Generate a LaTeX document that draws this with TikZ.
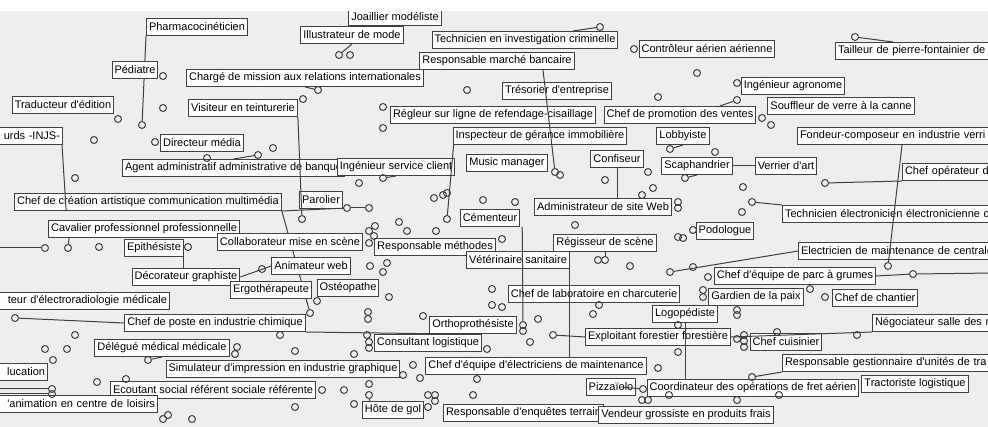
\documentclass[tikz,border=0pt]{standalone}
\usepackage{fontspec}
\setmainfont{Liberation Sans}[Ligatures=TeXOff]
\usetikzlibrary{calc}
\definecolor{canvasColor}{HTML}{EEEEEE}
\definecolor{edgeColor}{HTML}{404040}
\pgfdeclarelayer{canvas}
\pgfdeclarelayer{under}
\pgfsetlayers{canvas,under,main}
\tikzset{
    jobNode/.style = {rectangle, draw=edgeColor, fill=white, line width=1pt, inner xsep=2.5pt, inner ysep=0pt, minimum height=17pt, font=\fontsize{11pt}{13pt}\selectfont, text=black},
    cutLeftNode/.style = {jobNode, anchor=east, text width=300pt, align=right},
    cutRightNode/.style = {jobNode, anchor=west, text width=300pt, align=left},
    dotNode/.style = {circle, draw=edgeColor, line width=1pt, minimum size=7pt, inner sep=0pt},
    linkPath/.style = {draw=edgeColor, line width=1pt}
}

\begin{document}
\begin{tikzpicture}[x=1pt, y=-1pt]
    \useasboundingbox (0,0) rectangle (988,427);
    \begin{pgfonlayer}{canvas}
        \fill[canvasColor] (0,11) rectangle (988,427);
    \end{pgfonlayer}
    % free ends at the border
    \coordinate(edgeLeft) at (-5,248);
    \coordinate(edgeEducA) at (-5,389);
    \coordinate(edgeEducB) at (-5,394);
    \coordinate(edgeRight) at (995,273);
    % job labels
    \node(joaillier)[jobNode] at (395,17){Joaillier modéliste};
    \node(illustrateur)[jobNode] at (352,35){Illustrateur de mode};
    \node(pharmaco)[jobNode] at (197,27){Pharmacocinéticien};
    \node(pediatre)[jobNode] at (135,70){Pédiatre};
    \node(traducteur)[jobNode] at (63,105){Traducteur d'édition};
    \node(charge)[jobNode] at (305,78){Chargé de mission aux relations internationales};
    \node(visiteur)[jobNode] at (243,108){Visiteur en teinturerie};
    \node(directeur)[jobNode] at (202,143){Directeur média};
    \node(injs)[cutLeftNode] at (63,136){urds -INJS-};
    \node(agent)[jobNode, anchor=west] at (122,168){Agent administratif administrative de banque};
    \node(ingenieurClient)[jobNode] at (396,167){Ingénieur service client};
    \node(music)[jobNode] at (507,163){Music manager};
    \node(technicienCrim)[jobNode] at (525,40){Technicien en investigation criminelle};
    \node(marche)[jobNode] at (497,61){Responsable marché bancaire};
    \node(controleur)[jobNode] at (707,49){Contrôleur aérien aérienne};
    \node(tailleur)[cutRightNode] at (835,51){Tailleur de pierre-fontainier de};
    \node(tresorier)[jobNode] at (557,91){Trésorier d'entreprise};
    \node(agronome)[jobNode] at (793,86){Ingénieur agronome};
    \node(regleur)[jobNode] at (493,115){Régleur sur ligne de refendage-cisaillage};
    \node(promotion)[jobNode] at (680,115){Chef de promotion des ventes};
    \node(souffleur)[jobNode] at (841,106){Souffleur de verre à la canne};
    \node(inspecteur)[jobNode] at (540,136){Inspecteur de gérance immobilière};
    \node(lobbyiste)[jobNode] at (683,136){Lobbyiste};
    \node(fondeur)[cutRightNode] at (797,136){Fondeur-composeur en industrie verri};
    \node(confiseur)[jobNode] at (617,159){Confiseur};
    \node(scaphandrier)[jobNode] at (697,166){Scaphandrier};
    \node(verrier)[jobNode] at (786,166){Verrier d'art};
    \node(chefOperateur)[cutRightNode] at (902,172){Chef opérateur d};
    \node(technicienElec)[cutRightNode] at (782,214){Technicien électronicien électronicienne d};
    \node(creation)[jobNode] at (148,202){Chef de création artistique communication multimédia};
    \node(cavalier)[jobNode] at (144,229){Cavalier professionnel professionnelle};
    \node(parolier)[jobNode] at (321,200){Parolier};
    \node(collaborateur)[jobNode] at (290,242){Collaborateur mise en scène};
    \node(methodes)[jobNode] at (435,247){Responsable méthodes};
    \node(cementeur)[jobNode] at (490,218){Cémenteur};
    \node(adminWeb)[jobNode] at (603,207){Administrateur de site Web};
    \node(podologue)[jobNode] at (725,231){Podologue};
    \node(epithesiste)[jobNode] at (154,248){Epithésiste};
    \node(decorateur)[jobNode] at (186,277){Décorateur graphiste};
    \node(animateur)[jobNode] at (311,266){Animateur web};
    \node(ergo)[jobNode] at (271,290){Ergothérapeute};
    \node(osteo)[jobNode] at (348,288){Ostéopathe};
    \node(electroradio)[cutLeftNode] at (170,301){teur d'électroradiologie médicale};
    \node(poste)[jobNode] at (215,323){Chef de poste en industrie chimique};
    \node(delegue)[jobNode] at (162,348){Délégué médical médicale};
    \node(simulateur)[jobNode] at (283,369){Simulateur d'impression en industrie graphique};
    \node(education)[cutLeftNode] at (48,372){lucation};
    \node(ecoutant)[jobNode] at (213,390){Ecoutant social référent sociale référente};
    \node(animation)[cutLeftNode] at (158,404){'animation en centre de loisirs};
    \node(hote)[jobNode] at (393,410){Hôte de gol};
    \node(consultant)[jobNode] at (428,343){Consultant logistique};
    \node(ortho)[jobNode] at (473,325){Orthoprothésiste};
    \node(equipeElec)[jobNode] at (536,366){Chef d'équipe d'électriciens de maintenance};
    \node(labo)[jobNode] at (594,294){Chef de laboratoire en charcuterie};
    \node(regisseur)[jobNode] at (605,243){Régisseur de scène};
    \node(veterinaire)[jobNode] at (518,260){Vétérinaire sanitaire};
    \node(electricien)[cutRightNode] at (798,251){Electricien de maintenance de centrale};
    \node(grumes)[jobNode] at (795,276){Chef d'équipe de parc à grumes};
    \node(gardien)[jobNode] at (756,297){Gardien de la paix};
    \node(chantier)[jobNode] at (875,298){Chef de chantier};
    \node(logopediste)[jobNode] at (685,314){Logopédiste};
    \node(exploitant)[jobNode] at (658,337){Exploitant forestier forestière};
    \node(cuisinier)[jobNode] at (786,342){Chef cuisinier};
    \node(negociateur)[cutRightNode] at (872,323){Négociateur salle des m};
    \node(gestionnaire)[cutRightNode] at (782,363){Responsable gestionnaire d'unités de tra};
    \node(tractoriste)[jobNode] at (915,384){Tractoriste logistique};
    \node(coordinateur)[jobNode] at (753,388){Coordinateur des opérations de fret aérien};
    \node(pizzaiolo)[jobNode] at (611,387){Pizzaïolo};
    \node(enquetes)[jobNode, anchor=west] at (443,413){Responsable d'enquêtes terrain};
    \node(vendeur)[jobNode] at (686,415){Vendeur grossiste en produits frais};
    % linked dots
    \node(dotIllu)[dotNode] at (339,55){};
    \node(dotPharma)[dotNode] at (142,125){};
    \node(dotCharge)[dotNode] at (318,90){};
    \node(dotVisiteur)[dotNode] at (302,219){};
    \node(dotAgent)[dotNode] at (258,155){};
    \node(dotClient)[dotNode] at (383,178){};
    \node(dotMarche)[dotNode] at (555,172){};
    \node(dotCrim)[dotNode] at (600,27){};
    \node(dotTailleur)[dotNode] at (855,37){};
    \node(dotPromo)[dotNode] at (737,100){};
    \node(dotLobby)[dotNode] at (670,149){};
    \node(dotFondeur)[dotNode] at (888,266){};
    \node(dotScaph)[dotNode] at (685,178){};
    \node(dotOperateur)[dotNode] at (825,183){};
    \node(dotElectro)[dotNode] at (752,202){};
    \node(dotParolierA)[dotNode] at (347,208){};
    \node(dotParolierB)[dotNode] at (369,208){};
    \node(dotInspecteur)[dotNode] at (447,219){};
    \node(dotCavalier)[dotNode] at (68,248){};
    \node(dotEdge)[dotNode] at (45,248){};
    \node(dotErgo)[dotNode] at (310,313){};
    \node(dotPoste)[dotNode] at (15,318){};
    \node(dotDelegue)[dotNode] at (148,360){};
    \node(dotEducA)[dotNode] at (52,389){};
    \node(dotEducB)[dotNode] at (52,394){};
    \node(dotHote)[dotNode] at (369,395){};
    \node(dotCementeur)[dotNode] at (523,325){};
    \node(dotExploitant)[dotNode] at (553,335){};
    \node(dotRegisseur)[dotNode] at (605,260){};
    \node(dotElectricien)[dotNode] at (670,272){};
    \node(dotGrumes)[dotNode] at (913,274){};
    \node(dotGestion)[dotNode] at (752,377){};
    \node(dotPizza)[dotNode] at (643,389){};
    % loose dots
    \foreach \dx/\dy [count=\i] in {350/55, 163/76, 118/119, 163/108, 303/99, 155/142, 94/140, 99/247, 75/178, 273/148, 207/158, 560/175, 467/90, 634/49, 658/97, 697/73, 737/83, 383/107, 383/128, 762/118, 771/125, 715/152, 648/172, 653/188, 605/180, 642/195, 743/187, 742/212, 359/183, 434/198, 443/195, 447/193, 399/222, 407/231, 436/231, 369/231, 375/226, 374/236, 369/243, 188/247, 678/202, 678/208, 693/230, 678/237, 683/238, 262/269, 370/266, 387/263, 383/272, 317/301, 389/297, 75/335, 45/349, 67/349, 53/360, 237/347, 235/354, 97/382, 126/379, 163/419, 168/415, 192/419, 354/404, 369/384, 344/390, 322/390, 295/407, 367/335, 369/342, 369/348, 368/312, 368/319, 423/316, 354/354, 295/351, 280/335, 523/331, 538/319, 413/365, 403/375, 420/378, 477/379, 487/349, 658/368, 530/342, 492/289, 492/305, 502/307, 593/314, 599/305, 598/260, 630/266, 575/225, 502/239, 483/200, 515/202, 693/267, 708/277, 703/290, 703/297, 825/297, 810/289, 678/325, 678/352, 737/339, 744/335, 744/341, 744/347, 737/310, 737/315, 777/332, 857/335, 737/400, 779/395, 642/400, 648/400, 669/395, 428/395, 435/395, 435/401, 428/407, 473/395}
        \node(dot\i)[dotNode] at (\dx,\dy){};
    % links hidden behind labels
    \begin{pgfonlayer}{under}
        \path[linkPath] (pharmaco.south west) to (dotPharma);
        \path[linkPath] (creation.south east) to (dotErgo);
        \path[linkPath] (decorateur.east) to (animateur.west);
    \end{pgfonlayer}
    % links over labels
    \path[linkPath] (dotIllu) to (illustrateur.south);
    \path[linkPath] (charge.south) to (dotCharge);
    \path[linkPath] (visiteur.south east) to (dotVisiteur);
    \path[linkPath] (agent.north) to (dotAgent);
    \path[linkPath] (dotClient) to (ingenieurClient.south);
    \path[linkPath] ($(marche.south)+(46,0)$) to (dotMarche);
    \path[linkPath] ($(technicienCrim.north)+(48,0)$) to (dotCrim);
    \path[linkPath] ($(tailleur.north west)+(58,0)$) to (dotTailleur);
    \path[linkPath] ($(promotion.north)+(40,0)$) to (dotPromo);
    \path[linkPath] (lobbyiste.south) to (dotLobby);
    \path[linkPath] ($(fondeur.south west)+(105,0)$) to (dotFondeur);
    \path[linkPath] (confiseur.south) to (confiseur.south |- adminWeb.north);
    \path[linkPath] (scaphandrier.south) to (dotScaph);
    \path[linkPath] (scaphandrier) to (verrier);
    \path[linkPath] (dotOperateur) to (chefOperateur.south west);
    \path[linkPath] (dotElectro) to (technicienElec.north west);
    \path[linkPath] ($(injs.south east)+(-1,0)$) to ($(creation.south west)+(52,0)$);
    \path[linkPath] ($(cavalier.south west)+(21,0)$) to (dotCavalier);
    \path[linkPath] (edgeLeft) to (dotEdge);
    \path[linkPath] (creation.south east) to (dotParolierA);
    \path[linkPath] (dotParolierA) to (dotParolierB);
    \path[linkPath] ($(inspecteur.south west)+(1,0)$) to (dotInspecteur);
    \path[linkPath] (epithesiste.south east) to (epithesiste.south east |- decorateur.north);
    \path[linkPath] (dotPoste) to (poste.west);
    \path[linkPath] (poste.south east) to ($(ortho.south west)+(23,0)$);
    \path[linkPath] (delegue.south) to (dotDelegue);
    \path[linkPath] (edgeEducA) to (dotEducA);
    \path[linkPath] (edgeEducB) to (dotEducB);
    \path[linkPath] (dotHote) to ($(hote.north west)+(8,0)$);
    \path[linkPath] ($(cementeur.south east)+(2,0)$) to (dotCementeur);
    \path[linkPath] (veterinaire.south east) to (veterinaire.south east |- equipeElec.north);
    \path[linkPath] (regisseur.south) to (dotRegisseur);
    \path[linkPath] (dotElectricien) to (electricien.west);
    \path[linkPath] (grumes.east) to (dotGrumes);
    \path[linkPath] (dotGrumes) to (edgeRight);
    \path[linkPath] (logopediste.south) to (logopediste.south |- coordinateur.north);
    \path[linkPath] (dotExploitant) to (exploitant.west);
    \path[linkPath] (exploitant.east) to (negociateur.south west);
    \path[linkPath] (dotGestion) to (gestionnaire.south west);
    \path[linkPath] ($(pizzaiolo.east)+(-16,0)$) to (dotPizza);
    % white strip on top
    \fill[white] (0,0) rectangle (988,11);
\end{tikzpicture}
\end{document}
